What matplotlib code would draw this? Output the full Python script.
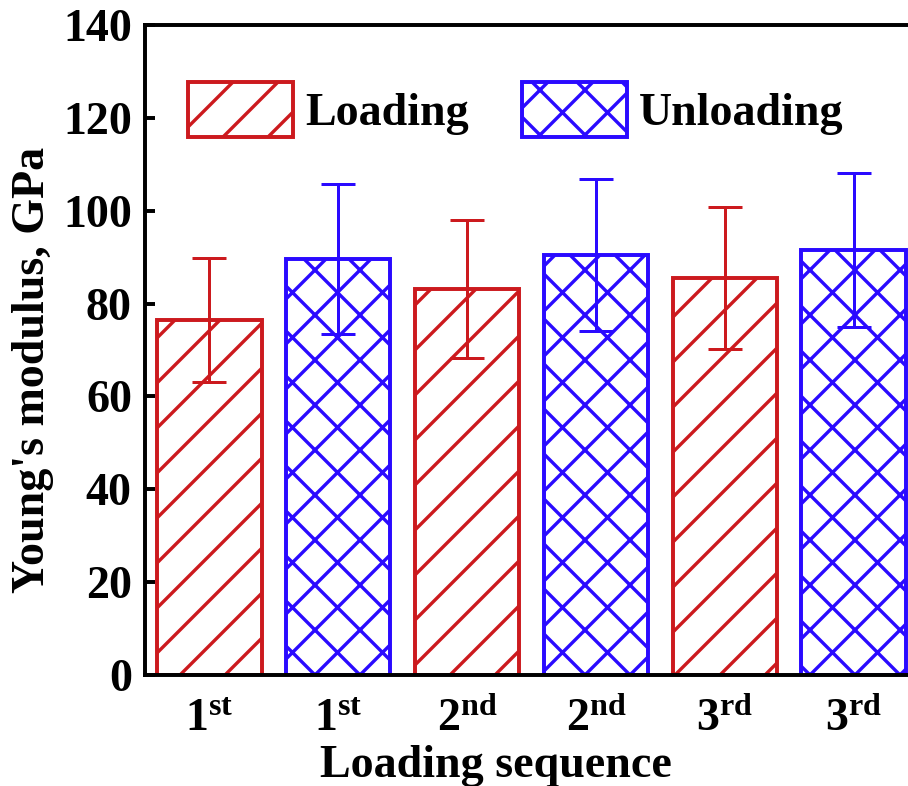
import matplotlib
matplotlib.use("Agg")
import matplotlib.pyplot as plt
import numpy as np
from matplotlib.patches import Patch

categories = [r"$\mathbf{1^{st}}$", r"$\mathbf{1^{st}}$", r"$\mathbf{2^{nd}}$",
              r"$\mathbf{2^{nd}}$", r"$\mathbf{3^{rd}}$", r"$\mathbf{3^{rd}}$"]
series_names = ["Loading", "Unloading"]
values = [76.5, 89.6, 83.1, 90.5, 85.5, 91.5]
errors = [13.4, 16.2, 14.8, 16.4, 15.3, 16.6]
kinds = [0, 1, 0, 1, 0, 1]
yticks = [0, 20, 40, 60, 80, 100, 120, 140]

RED = "#CC1A1E"
BLUE = "#2A0AFF"
colors = [RED, BLUE]
hatches = ["/", "x"]

DPI = 135
plt.rcParams["font.family"] = ["Liberation Serif", "DejaVu Serif"]
plt.rcParams["font.weight"] = "bold"
plt.rcParams["mathtext.fontset"] = "custom"
plt.rcParams["mathtext.rm"] = "Liberation Serif:bold"
plt.rcParams["mathtext.bf"] = "Liberation Serif:bold"
plt.rcParams["mathtext.it"] = "Liberation Serif:bold"
plt.rcParams["hatch.linewidth"] = 1.8

fs = 24.5
fig = plt.figure(figsize=(908 / DPI, 786 / DPI), dpi=DPI)
ax = fig.add_axes([145 / 908, 111 / 786, 773 / 908, 650 / 786])

x = np.arange(len(values))
for i in range(len(values)):
    k = kinds[i]
    ax.bar(x[i], values[i], width=0.81, facecolor="white", edgecolor=colors[k],
           hatch=hatches[k], linewidth=2.1, zorder=2)
    ax.errorbar(x[i], values[i], yerr=errors[i], fmt="none", ecolor=colors[k],
                elinewidth=1.6, capsize=9, capthick=1.6, zorder=3)

ax.set_xlim(-0.5, 5.5)
ax.set_ylim(0, 140)
ax.set_yticks(yticks)
ax.set_yticklabels([str(t) for t in yticks], fontsize=fs, fontweight="bold")
ax.set_xticks(x)
ax.set_xticklabels(categories, fontsize=fs)
ax.tick_params(axis="both", direction="in", length=5.5, width=2.1)
ax.tick_params(axis="x", pad=13)
ax.tick_params(axis="y", pad=7)
for s in ax.spines.values():
    s.set_linewidth(2.1)

ax.set_ylabel("Young's modulus, GPa", fontsize=fs, fontweight="bold", labelpad=5)
ax.set_xlabel("Loading sequence", fontsize=fs, fontweight="bold", labelpad=2)
ax.xaxis.label.set_x(0.454)
ax.yaxis.label.set_y(0.469)

handles = [Patch(facecolor="white", edgecolor=colors[j], hatch=hatches[j], linewidth=2.1)
           for j in range(2)]
ax.legend(handles, series_names, loc="upper left", bbox_to_anchor=(0.055, 0.912),
          ncol=2, frameon=False, borderpad=0, borderaxespad=0,
          handlelength=2.3, handleheight=1.45, handletextpad=0.26, columnspacing=1.15,
          prop={"weight": "bold", "size": fs})

fig.savefig("out.png", dpi=DPI)
